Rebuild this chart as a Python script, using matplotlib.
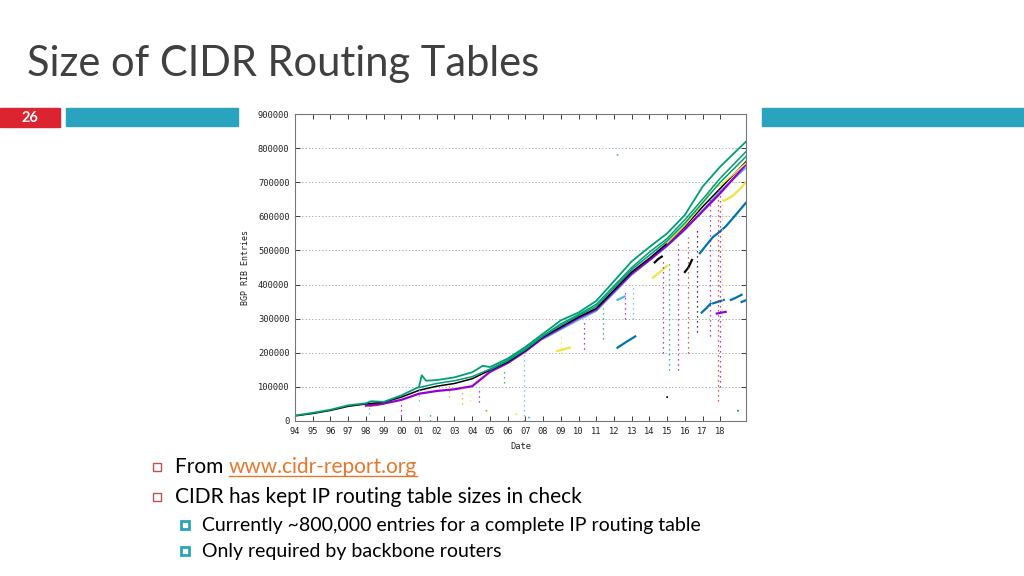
import numpy as np
import matplotlib
matplotlib.use('Agg')
import matplotlib.pyplot as plt
from matplotlib.patches import Rectangle

# gnuplot-ish colours
PURPLE = '#9400d3'
GREEN = '#009e73'
SKY = '#56b4e9'
ORANGE = '#e69f00'
YELLOW = '#f0e442'
BLUE = '#0072b2'
RED = '#e51e10'
BLACK = '#000000'

# --- data (year, BGP RIB entries) ---
top_green_year = [1994, 1995, 1996, 1997, 1998, 1998.3, 1999, 2000, 2001, 2001.15, 2001.4,
                  2002, 2003, 2004, 2004.6, 2005, 2006, 2007, 2008, 2009, 2010, 2011,
                  2012, 2013, 2014, 2015, 2016, 2017, 2018, 2019.45]
top_green_val = [16000, 24000, 33000, 46000, 52000, 58000, 56000, 75000, 100000, 134000, 118000,
                 120000, 128000, 143000, 162000, 158000, 183000, 217000, 256000, 295000, 318000, 352000,
                 410000, 468000, 510000, 550000, 604000, 687000, 746000, 819000]

green2_year = [2001, 2002, 2003, 2004, 2005, 2006, 2007, 2008, 2009, 2010, 2011, 2012,
               2013, 2014, 2015, 2016, 2017, 2018, 2019.45]
green2_val = [98000, 110000, 118000, 130000, 152000, 178000, 212000, 250000, 285000, 312000, 342000, 396000,
              450000, 495000, 535000, 590000, 650000, 712000, 790000]

green3_year = [2005, 2006, 2007, 2008, 2009, 2010, 2011, 2012, 2013, 2014, 2015, 2016, 2017, 2018, 2019.45]
green3_val = [150000, 176000, 209000, 249000, 280000, 309000, 336000, 390000, 444000, 486000, 528000, 580000,
              640000, 700000, 775000]

main_year = [1994, 1995, 1996, 1997, 1998, 1999, 2000, 2001, 2002, 2003, 2004, 2005, 2006, 2007,
             2008, 2009, 2010, 2011, 2012, 2013, 2014, 2015, 2016, 2017, 2018, 2019.45]
main_val = [15000, 22000, 31000, 43000, 50000, 55000, 70000, 90000, 102000, 110000, 124000, 149000, 173000, 207000,
            247000, 276000, 305000, 330000, 384000, 437000, 477000, 521000, 570000, 628000, 682000, 760000]

purple_year = [1998, 1999, 2000, 2001, 2002, 2003, 2004, 2005, 2006, 2007, 2008, 2009, 2010, 2011,
               2012, 2013, 2014, 2015, 2016, 2017, 2018, 2019.45]
purple_val = [45000, 51000, 62000, 80000, 88000, 93000, 102000, 144000, 170000, 204000, 244000, 273000, 302000, 327000,
              380000, 432000, 472000, 515000, 562000, 615000, 668000, 752000]

sky_year = [2008, 2009, 2010, 2011, 2012, 2013, 2014, 2015, 2016, 2017, 2018, 2019.45]
sky_val = [240000, 268000, 296000, 322000, 375000, 428000, 470000, 512000, 560000, 618000, 675000, 742000]

yellow_year = [2015, 2016, 2017, 2017.6, 2018, 2019.45]
yellow_val = [522000, 574000, 636000, 690000, 690000, 756000]

red_year = [1998.2, 1998.6, 1999.0]
red_val = [44000, 46000, 50000]

# short isolated segments
seg_blue1_year = [2012.2, 2012.7, 2013.2]
seg_blue1_val = [215000, 232000, 248000]
seg_blue2_year = [2016.85, 2017.2, 2017.6, 2017.9, 2018.3, 2018.8, 2019.45]
seg_blue2_val = [492000, 515000, 540000, 552000, 570000, 600000, 640000]
seg_blue3_year = [2016.95, 2017.2, 2017.45]
seg_blue3_val = [318000, 330000, 344000]
seg_blue4_year = [2017.6, 2017.9, 2018.2]
seg_blue4_val = [345000, 350000, 355000]
seg_blue5_year = [2018.6, 2018.9, 2019.2]
seg_blue5_val = [355000, 362000, 370000]
seg_blue6_year = [2019.2, 2019.45]
seg_blue6_val = [349000, 354000]
seg_yellow1_year = [2008.8, 2009.5]
seg_yellow1_val = [205000, 215000]
seg_yellow2_year = [2014.2, 2014.6, 2015.0]
seg_yellow2_val = [420000, 437000, 455000]
seg_yellow3_year = [2018.2, 2018.7, 2019.1, 2019.45]
seg_yellow3_val = [645000, 660000, 680000, 700000]
seg_black1_year = [2016.0, 2016.2, 2016.4]
seg_black1_val = [437000, 450000, 472000]
seg_black2_year = [2014.3, 2014.5, 2014.7]
seg_black2_val = [465000, 475000, 482000]
seg_purple1_year = [2017.8, 2018.3]
seg_purple1_val = [315000, 320000]
seg_sky1_year = [2012.2, 2012.6]
seg_sky1_val = [355000, 365000]

# dotted vertical streaks of dropped-out samples
streak_year = [1998.2, 2000.0, 2001.0, 2001.6, 2002.7, 2003.4, 2003.9, 2004.4, 2005.8, 2006.9, 2009.0,
               2010.3, 2011.4, 2012.6, 2013.05, 2014.75, 2015.1, 2015.6, 2016.2, 2016.7, 2017.4,
               2017.85, 2018.0, 2018.1]
streak_lo = [20000, 0, 60000, 0, 70000, 50000, 60000, 55000, 110000, 0, 200000,
             210000, 240000, 300000, 300000, 200000, 150000, 150000, 200000, 260000, 250000,
             60000, 100000, 280000]
streak_hi = [50000, 60000, 100000, 30000, 110000, 100000, 95000, 100000, 150000, 200000, 250000,
             300000, 330000, 380000, 400000, 470000, 470000, 520000, 540000, 560000, 650000,
             680000, 680000, 660000]
streak_color = [SKY, PURPLE, SKY, GREEN, ORANGE, ORANGE, YELLOW, PURPLE, GREEN, SKY, YELLOW,
                PURPLE, GREEN, PURPLE, SKY, PURPLE, GREEN, PURPLE, RED, BLACK, PURPLE,
                RED, PURPLE, YELLOW]

dot_year = [2012.2, 2015.0, 2019.0, 2006.5, 2007.2, 2004.8]
dot_val = [780000, 70000, 30000, 20000, 10000, 30000]
dot_color = [SKY, BLACK, GREEN, YELLOW, SKY, ORANGE]

year_ticks = list(range(1994, 2019))
year_labels = ['%02d' % (y % 100) for y in year_ticks]
entry_ticks = list(range(0, 900001, 100000))

# --- figure ---
fig = plt.figure(figsize=(10.24, 5.76), dpi=100)

bg = fig.add_axes([0, 0, 1, 1])
bg.set_xlim(0, 1024)
bg.set_ylim(576, 0)
bg.axis('off')

TEAL = '#2aa3bf'
bg.text(27, 64, 'Size of CIDR Routing Tables', fontsize=30, family='Lato', color='#404040',
        va='center', ha='left')
bg.add_patch(Rectangle((0, 108), 60, 19, color='#dc2330'))
bg.text(30, 117.5, '26', fontsize=10.5, family='Lato', weight='bold', color='white', ha='center', va='center')
bg.add_patch(Rectangle((66, 108), 172, 18, color=TEAL))
bg.add_patch(Rectangle((762, 108), 262, 18, color=TEAL))

# bullets
for yb in [467, 497]:
    bg.add_patch(Rectangle((153, yb - 4), 8, 8, facecolor='white', edgecolor='#c0504d', lw=1.0))
for yb in [525, 551]:
    bg.add_patch(Rectangle((181, yb - 4), 8, 8, facecolor='white', edgecolor=TEAL, lw=2.0))

t1 = bg.text(175, 467, 'From ', fontsize=15, family='Lato', color='black', va='center')
bg.text(175, 497, 'CIDR has kept IP routing table sizes in check', fontsize=15, family='Lato',
        color='black', va='center')
bg.text(202, 525, 'Currently ~800,000 entries for a complete IP routing table', fontsize=14,
        family='Lato', color='black', va='center')
bg.text(202, 551, 'Only required by backbone routers', fontsize=14, family='Lato', color='black',
        va='center')
fig.canvas.draw()
r = fig.canvas.get_renderer()
ext = t1.get_window_extent(r)
x_link = ext.x1
link = fig.text(x_link / 1024, 1 - 467 / 576, 'www.cidr-report.org', fontsize=15, family='Lato',
                color='#e8772e', va='center')
fig.canvas.draw()
le = link.get_window_extent(r)
bg.plot([le.x0, le.x1], [476, 476], color='#e8772e', lw=1.0)

# --- chart ---
ax = fig.add_axes([295 / 1024, 1 - 421 / 576, 451 / 1024, 307 / 576])
ax.set_facecolor('white')

lw = 1.1
ax.plot(red_year, red_val, color=RED, lw=lw)
ax.plot(sky_year, sky_val, color=SKY, lw=lw)
ax.plot(purple_year, purple_val, color=PURPLE, lw=1.6)
ax.plot(main_year, main_val, color=BLACK, lw=lw)
ax.plot(yellow_year, yellow_val, color=YELLOW, lw=lw)
ax.plot(green3_year, green3_val, color=GREEN, lw=lw)
ax.plot(green2_year, green2_val, color=GREEN, lw=lw)
ax.plot(top_green_year, top_green_val, color=GREEN, lw=1.3)

segs = [(seg_blue1_year, seg_blue1_val, BLUE), (seg_blue2_year, seg_blue2_val, BLUE),
        (seg_blue3_year, seg_blue3_val, BLUE), (seg_blue4_year, seg_blue4_val, BLUE),
        (seg_blue5_year, seg_blue5_val, BLUE), (seg_blue6_year, seg_blue6_val, BLUE),
        (seg_yellow1_year, seg_yellow1_val, YELLOW), (seg_yellow2_year, seg_yellow2_val, YELLOW),
        (seg_yellow3_year, seg_yellow3_val, YELLOW), (seg_black1_year, seg_black1_val, BLACK),
        (seg_black2_year, seg_black2_val, BLACK), (seg_purple1_year, seg_purple1_val, PURPLE),
        (seg_sky1_year, seg_sky1_val, SKY)]
for xs, ys, c in segs:
    ax.plot(xs, ys, color=c, lw=1.6)

for x, lo, hi, c in zip(streak_year, streak_lo, streak_hi, streak_color):
    ax.vlines(x, lo, hi, colors=c, lw=0.9, linestyles=(0, (1, 3)))
ax.scatter(dot_year, dot_val, s=2, c=dot_color, lw=0)

ax.set_xlim(1994, 2019.45)
ax.set_ylim(0, 900000)
ax.set_xticks(year_ticks)
ax.set_xticklabels(year_labels, family='DejaVu Sans Mono')
ax.set_yticks(entry_ticks)
ax.set_yticklabels([str(v) for v in entry_ticks], family='DejaVu Sans Mono')
ax.tick_params(direction='in', top=True, right=True, length=3.5, width=0.6, labelsize=6.3,
               colors='#222222', pad=4)
ax.yaxis.grid(True, linestyle=(0, (1.5, 2.5)), color='#999999', lw=0.6)
for s in ax.spines.values():
    s.set_color('#777777')
    s.set_linewidth(0.8)

ax.set_xlabel('Date', fontsize=6.3, family='DejaVu Sans Mono', color='#222222')
ax.xaxis.set_label_coords(0.5, -0.07)
ax.set_ylabel('BGP RIB Entries', fontsize=6.0, family='DejaVu Sans Mono', color='#222222')
ax.yaxis.set_label_coords(-0.1, 0.5)

fig.savefig('out.png', dpi=100)
